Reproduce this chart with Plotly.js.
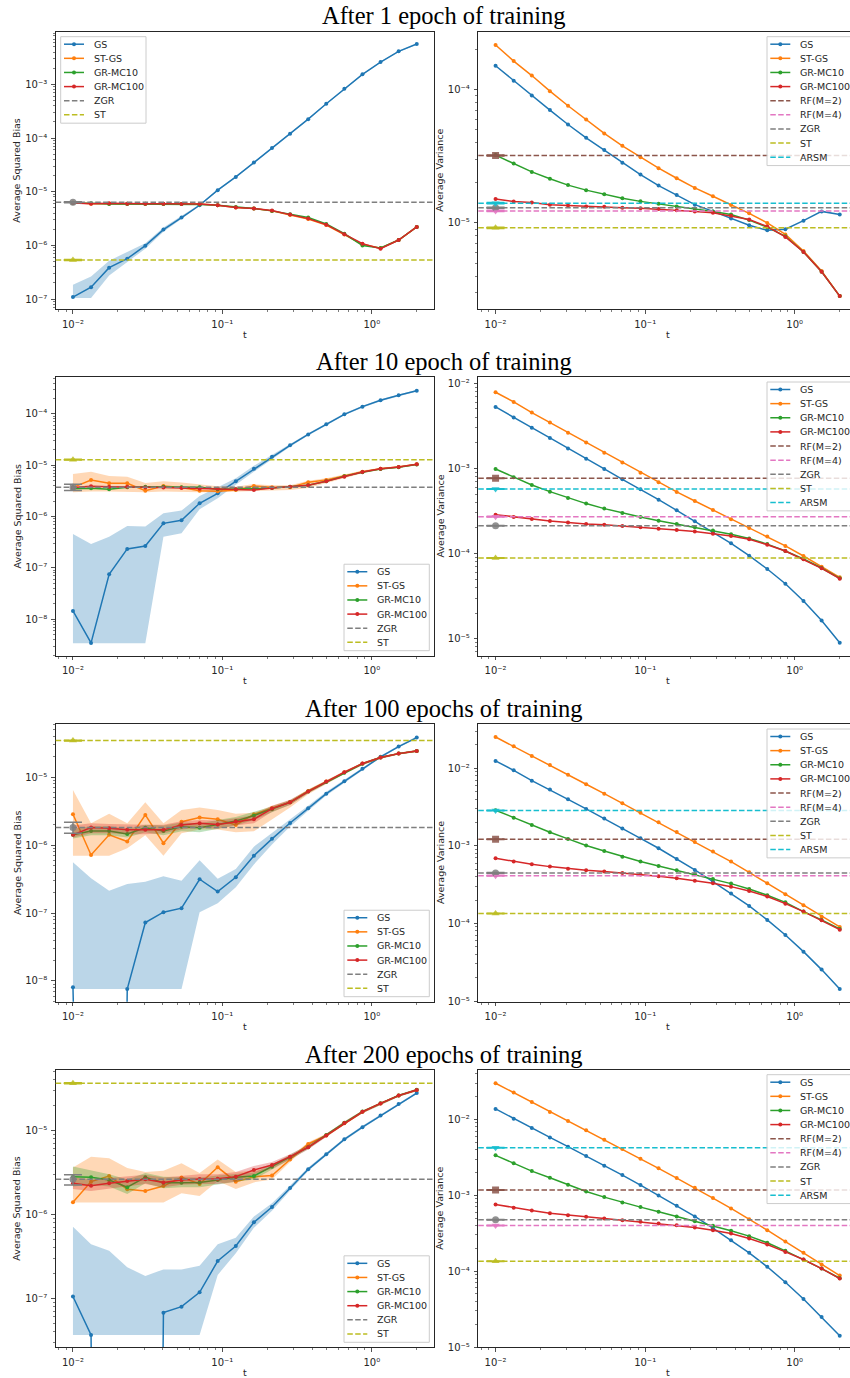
<!DOCTYPE html>
<html><head><meta charset="utf-8">
<script src="https://cdn.plot.ly/plotly-3.0.1.min.js"></script>
<style>html,body{margin:0;padding:0;overflow:hidden;background:#fff}#chart{width:860px;height:1378px}</style>
</head><body><div id="chart"></div>
<script>
// ---------------- DATA ----------------
const T = [0.01, 0.0132161, 0.0174665, 0.023084, 0.0305079, 0.0403196, 0.0532868, 0.0704243, 0.0930737, 0.123007,
           0.162567, 0.21485, 0.283948, 0.375269, 0.49596, 0.655466, 0.866269, 1.14486, 1.51305, 2.0];
const EPOCH_TITLES = ['After 1 epoch of training','After 10 epoch of training','After 100 epochs of training','After 200 epochs of training'];
const X_TICKS = [0.01, 0.1, 1];
const X_TICK_TEXT = ['10\u207B\u00B2', '10\u207B\u00B9', '10\u2070'];
const Y_TICKS_BIAS = [[1e-7,1e-6,1e-5,1e-4,1e-3],[1e-8,1e-7,1e-6,1e-5,1e-4],[1e-8,1e-7,1e-6,1e-5],[1e-7,1e-6,1e-5]];
const Y_TICKS_VAR  = [[1e-5,1e-4],[1e-5,1e-4,1e-3,1e-2],[1e-5,1e-4,1e-3,1e-2],[1e-5,1e-4,1e-3,1e-2]];

// ---- squared bias (left column) ----
const gs_bias_1   = [1.09e-7,1.67e-7,3.85e-7,5.66e-7,9.9e-7,1.97e-6,3.3e-6,5.6e-6,1.07e-5,1.89e-5,3.5e-5,6.5e-5,1.2e-4,2.25e-4,4.35e-4,8.3e-4,1.54e-3,2.61e-3,4.13e-3,5.66e-3];
const gs_bias_1_lo= [1.05e-7,1.05e-7,2.75e-7,4.9e-7,8.7e-7,1.8e-6,3.1e-6,5.4e-6,1.03e-5,1.83e-5,3.4e-5,6.3e-5,1.17e-4,2.19e-4,4.24e-4,8.1e-4,1.5e-3,2.55e-3,4.03e-3,5.53e-3];
const gs_bias_1_hi= [1.85e-7,2.65e-7,5.2e-7,7.5e-7,1.1e-6,2.15e-6,3.5e-6,5.85e-6,1.11e-5,1.95e-5,3.6e-5,6.7e-5,1.23e-4,2.31e-4,4.46e-4,8.5e-4,1.58e-3,2.67e-3,4.23e-3,5.79e-3];
const stgs_bias_1 = [6.3e-6,6.0e-6,6.0e-6,6.0e-6,6.0e-6,5.9e-6,5.9e-6,5.9e-6,5.6e-6,5.1e-6,4.9e-6,4.4e-6,3.7e-6,3.1e-6,2.4e-6,1.6e-6,1.05e-6,8.9e-7,1.26e-6,2.21e-6];
const gr10_bias_1 = [6.1e-6,6.1e-6,5.9e-6,5.9e-6,5.9e-6,5.9e-6,5.9e-6,5.8e-6,5.6e-6,5.2e-6,4.9e-6,4.4e-6,3.8e-6,3.3e-6,2.5e-6,1.65e-6,1.0e-6,9.0e-7,1.26e-6,2.21e-6];
const gr100_bias_1= [6.2e-6,6.0e-6,6.1e-6,6.0e-6,6.0e-6,6.0e-6,5.9e-6,5.9e-6,5.6e-6,5.1e-6,4.9e-6,4.46e-6,3.75e-6,3.16e-6,2.44e-6,1.61e-6,1.08e-6,8.7e-7,1.26e-6,2.21e-6];

const gs_bias_10   = [1.45e-8,3.46e-9,7.5e-8,2.35e-7,2.68e-7,7.4e-7,8.5e-7,1.82e-6,2.85e-6,4.9e-6,8.6e-6,1.475e-5,2.45e-5,4.0e-5,6.3e-5,9.85e-5,1.39e-4,1.85e-4,2.31e-4,2.85e-4];
const gs_bias_10_lo= [3.4e-9,3.4e-9,3.4e-9,3.4e-9,3.4e-9,4.07e-7,4.73e-7,1.39e-6,2.28e-6,4.2e-6,7.5e-6,1.33e-5,2.3e-5,3.8e-5,6.0e-5,9.4e-5,1.33e-4,1.77e-4,2.22e-4,2.74e-4];
const gs_bias_10_hi= [4.6e-7,2.94e-7,4.07e-7,6.6e-7,6.4e-7,1.16e-6,1.31e-6,2.53e-6,3.72e-6,5.6e-6,9.8e-6,1.62e-5,2.6e-5,4.2e-5,6.6e-5,1.03e-4,1.45e-4,1.93e-4,2.4e-4,2.96e-4];
const stgs_bias_10   = [3.72e-6,5.18e-6,4.46e-6,4.46e-6,3.2e-6,3.95e-6,3.68e-6,3.2e-6,3.12e-6,3.3e-6,3.95e-6,3.72e-6,3.72e-6,4.67e-6,5.18e-6,6.2e-6,7.5e-6,8.6e-6,9.3e-6,1.045e-5];
const stgs_bias_10_lo= [3.0e-6,3.1e-6,3.1e-6,3.1e-6,3.0e-6,3.1e-6,3.1e-6,3.0e-6,3.0e-6,3.0e-6,3.2e-6,3.2e-6,3.3e-6,3.6e-6,4.4e-6,5.6e-6,7.0e-6,8.2e-6,8.9e-6,1.0e-5];
const stgs_bias_10_hi= [6.8e-6,7.5e-6,6.2e-6,6.0e-6,4.5e-6,4.9e-6,4.6e-6,4.2e-6,3.9e-6,3.8e-6,4.3e-6,4.1e-6,4.1e-6,5.0e-6,5.6e-6,6.6e-6,7.9e-6,9.0e-6,9.7e-6,1.09e-5];
const gr10_bias_10  = [3.5e-6,3.57e-6,3.4e-6,3.72e-6,3.8e-6,3.8e-6,3.72e-6,3.72e-6,3.4e-6,3.4e-6,3.5e-6,3.6e-6,3.8e-6,4.1e-6,4.9e-6,6.1e-6,7.3e-6,8.5e-6,9.2e-6,1.04e-5];
const gr100_bias_10 = [3.68e-6,3.9e-6,3.8e-6,3.8e-6,3.68e-6,3.68e-6,3.6e-6,3.5e-6,3.5e-6,3.4e-6,3.3e-6,3.6e-6,3.8e-6,4.1e-6,4.9e-6,6.0e-6,7.4e-6,8.6e-6,9.3e-6,1.045e-5];

const gs_bias_100   = [8.07e-9,0,0,7.6e-9,7.24e-8,1.03e-7,1.18e-7,3.15e-7,2.07e-7,3.37e-7,7.0e-7,1.24e-6,2.12e-6,3.49e-6,5.74e-6,8.73e-6,1.33e-5,2.0e-5,2.83e-5,3.84e-5];
const gs_bias_100_lo= [7.6e-9,7.6e-9,7.6e-9,7.6e-9,7.6e-9,7.6e-9,7.6e-9,1.03e-7,1.39e-7,2.4e-7,5.2e-7,1.02e-6,1.88e-6,3.2e-6,5.4e-6,8.3e-6,1.27e-5,1.93e-5,2.74e-5,3.72e-5];
const gs_bias_100_hi= [5.6e-7,3.26e-7,2.14e-7,2.69e-7,2.9e-7,3.48e-7,3.0e-7,6.0e-7,3.2e-7,4.47e-7,9.5e-7,1.5e-6,2.4e-6,3.8e-6,6.1e-6,9.2e-6,1.39e-5,2.08e-5,2.93e-5,3.97e-5];
const stgs_bias_100   = [2.85e-6,7.18e-7,1.42e-6,1.13e-6,2.79e-6,1.07e-6,2.22e-6,2.55e-6,2.41e-6,1.99e-6,2.85e-6,3.49e-6,4.28e-6,6.3e-6,8.63e-6,1.19e-5,1.59e-5,1.95e-5,2.23e-5,2.44e-5];
const stgs_bias_100_lo= [7.0e-7,7.0e-7,7.0e-7,9.0e-7,1.4e-6,7.0e-7,1.5e-6,1.7e-6,1.7e-6,1.55e-6,1.6e-6,2.4e-6,3.6e-6,5.6e-6,8.0e-6,1.12e-5,1.5e-5,1.88e-5,2.16e-5,2.36e-5];
const stgs_bias_100_hi= [6.5e-6,2.1e-6,2.9e-6,2.1e-6,4.3e-6,2.1e-6,3.3e-6,3.6e-6,3.3e-6,2.9e-6,3.0e-6,3.8e-6,4.6e-6,6.6e-6,9.0e-6,1.24e-5,1.65e-5,2.02e-5,2.3e-5,2.52e-5];
const gr10_bias_100   = [1.42e-6,1.62e-6,1.62e-6,1.46e-6,1.8e-6,1.62e-6,1.87e-6,1.81e-6,2.02e-6,2.27e-6,2.72e-6,3.38e-6,4.28e-6,6.15e-6,8.5e-6,1.17e-5,1.58e-5,1.95e-5,2.23e-5,2.44e-5];
const gr10_bias_100_lo= [1.25e-6,1.4e-6,1.4e-6,1.3e-6,1.55e-6,1.4e-6,1.6e-6,1.55e-6,1.75e-6,1.95e-6,2.35e-6,3.05e-6,3.95e-6,5.8e-6,8.1e-6,1.12e-5,1.52e-5,1.88e-5,2.16e-5,2.36e-5];
const gr10_bias_100_hi= [1.75e-6,1.9e-6,1.9e-6,1.75e-6,2.0e-6,1.95e-6,2.15e-6,2.1e-6,2.35e-6,2.6e-6,3.1e-6,3.7e-6,4.6e-6,6.5e-6,8.9e-6,1.22e-5,1.64e-5,2.02e-5,2.3e-5,2.52e-5];
const gr100_bias_100   = [1.42e-6,1.82e-6,1.78e-6,1.68e-6,1.68e-6,1.68e-6,1.99e-6,2.1e-6,2.02e-6,2.23e-6,2.41e-6,3.46e-6,4.28e-6,6.15e-6,8.63e-6,1.19e-5,1.59e-5,1.95e-5,2.23e-5,2.44e-5];
const gr100_bias_100_lo= [1.3e-6,1.5e-6,1.5e-6,1.45e-6,1.45e-6,1.5e-6,1.7e-6,1.8e-6,1.75e-6,1.95e-6,2.1e-6,3.1e-6,3.9e-6,5.8e-6,8.2e-6,1.14e-5,1.53e-5,1.88e-5,2.16e-5,2.36e-5];
const gr100_bias_100_hi= [1.95e-6,2.1e-6,2.05e-6,2.0e-6,2.0e-6,2.0e-6,2.25e-6,2.35e-6,2.3e-6,2.5e-6,2.75e-6,3.8e-6,4.65e-6,6.55e-6,9.0e-6,1.23e-5,1.65e-5,2.02e-5,2.3e-5,2.52e-5];

const gs_bias_200   = [1.05e-7,3.66e-8,0,0,0,6.75e-8,7.96e-8,1.18e-7,2.78e-7,4.2e-7,8.03e-7,1.22e-6,2.06e-6,3.43e-6,5.18e-6,7.81e-6,1.09e-5,1.5e-5,2.06e-5,2.78e-5];
const gs_bias_200_lo= [3.66e-8,3.66e-8,3.66e-8,3.66e-8,3.66e-8,3.66e-8,3.66e-8,3.66e-8,1.9e-7,3.43e-7,6.9e-7,1.1e-6,1.92e-6,3.27e-6,4.97e-6,7.5e-6,1.05e-5,1.45e-5,2.0e-5,2.7e-5];
const gs_bias_200_hi= [7.13e-7,4.4e-7,3.69e-7,2.34e-7,1.85e-7,2.21e-7,2.21e-7,2.45e-7,4.4e-7,5.27e-7,9.4e-7,1.35e-6,2.2e-6,3.6e-6,5.4e-6,8.1e-6,1.13e-5,1.55e-5,2.12e-5,2.86e-5];
const stgs_bias_200   = [1.39e-6,2.45e-6,2.86e-6,1.99e-6,1.9e-6,2.17e-6,2.75e-6,2.3e-6,3.63e-6,2.45e-6,2.8e-6,2.9e-6,4.5e-6,6.88e-6,8.7e-6,1.21e-5,1.66e-5,2.09e-5,2.59e-5,3.02e-5];
const stgs_bias_200_lo= [1.38e-6,1.38e-6,1.38e-6,1.38e-6,1.38e-6,1.38e-6,1.78e-6,1.65e-6,2.5e-6,2.0e-6,2.4e-6,2.6e-6,4.2e-6,6.5e-6,8.3e-6,1.16e-5,1.6e-5,2.03e-5,2.53e-5,2.94e-5];
const stgs_bias_200_hi= [3.6e-6,4.85e-6,4.65e-6,3.55e-6,3.2e-6,3.3e-6,4.05e-6,3.1e-6,4.5e-6,3.2e-6,3.3e-6,3.6e-6,4.8e-6,7.2e-6,9.1e-6,1.26e-5,1.72e-5,2.15e-5,2.65e-5,3.1e-5];
const gr10_bias_200   = [2.81e-6,2.76e-6,2.56e-6,2.1e-6,2.76e-6,2.38e-6,2.38e-6,2.4e-6,2.56e-6,2.76e-6,2.86e-6,3.69e-6,4.78e-6,6.28e-6,8.8e-6,1.23e-5,1.67e-5,2.1e-5,2.6e-5,3.03e-5];
const gr10_bias_200_lo= [2.15e-6,2.25e-6,2.15e-6,1.75e-6,2.35e-6,2.05e-6,2.1e-6,2.1e-6,2.25e-6,2.45e-6,2.6e-6,3.45e-6,4.5e-6,6.0e-6,8.3e-6,1.17e-5,1.6e-5,2.02e-5,2.51e-5,2.92e-5];
const gr10_bias_200_hi= [3.7e-6,3.3e-6,3.0e-6,2.6e-6,3.1e-6,2.8e-6,2.75e-6,2.75e-6,2.9e-6,3.05e-6,3.15e-6,3.95e-6,5.1e-6,6.7e-6,9.1e-6,1.27e-5,1.72e-5,2.16e-5,2.67e-5,3.12e-5];
const gr100_bias_200   = [2.34e-6,2.19e-6,2.34e-6,2.49e-6,2.61e-6,2.4e-6,2.56e-6,2.63e-6,2.65e-6,2.81e-6,3.37e-6,3.86e-6,4.86e-6,6.28e-6,8.7e-6,1.22e-5,1.66e-5,2.09e-5,2.59e-5,3.02e-5];
const gr100_bias_200_lo= [2.0e-6,1.9e-6,2.0e-6,2.15e-6,2.3e-6,2.1e-6,2.25e-6,2.3e-6,2.3e-6,2.45e-6,3.0e-6,3.5e-6,4.5e-6,5.9e-6,8.3e-6,1.17e-5,1.6e-5,2.02e-5,2.51e-5,2.92e-5];
const gr100_bias_200_hi= [2.75e-6,2.6e-6,2.7e-6,2.85e-6,2.95e-6,2.75e-6,2.9e-6,3.0e-6,3.0e-6,3.2e-6,3.75e-6,4.2e-6,5.2e-6,6.7e-6,9.1e-6,1.27e-5,1.72e-5,2.16e-5,2.67e-5,3.12e-5];

// reference estimators, bias (one value per epoch: 1, 10, 100, 200)
const zgr_bias = [6.37e-6, 3.72e-6, 1.82e-6, 2.61e-6];
const zgr_bias_err_up = [0.12e-6, 0.55e-6, 0.35e-6, 0.35e-6];
const zgr_bias_err_dn = [0.12e-6, 0.5e-6, 0.32e-6, 0.38e-6];
const st_bias = [5.35e-7, 1.29e-5, 3.47e-5, 3.63e-5];
const st_bias_err = [0.1e-7, 0.2e-6, 0.5e-6, 0.5e-6];

// ---- variance (right column) ----
const gs_var_1   = [1.505e-4,1.16e-4,9.0e-5,7.0e-5,5.46e-5,4.34e-5,3.51e-5,2.82e-5,2.30e-5,1.905e-5,1.62e-5,1.37e-5,1.22e-5,1.08e-5,9.6e-6,8.8e-6,8.96e-6,1.04e-5,1.22e-5,1.155e-5];
const stgs_var_1 = [2.15e-4,1.63e-4,1.27e-4,9.7e-5,7.54e-5,5.96e-5,4.68e-5,3.78e-5,3.11e-5,2.57e-5,2.16e-5,1.83e-5,1.585e-5,1.365e-5,1.18e-5,1.0e-5,8.2e-6,6.17e-6,4.37e-6,2.83e-6];
const gr10_var_1 = [3.22e-5,2.79e-5,2.41e-5,2.14e-5,1.92e-5,1.76e-5,1.64e-5,1.53e-5,1.45e-5,1.39e-5,1.33e-5,1.27e-5,1.22e-5,1.155e-5,1.05e-5,9.3e-6,7.94e-6,6.06e-6,4.31e-6,2.83e-6];
const gr100_var_1= [1.51e-5,1.445e-5,1.42e-5,1.37e-5,1.35e-5,1.33e-5,1.32e-5,1.30e-5,1.29e-5,1.27e-5,1.245e-5,1.22e-5,1.19e-5,1.13e-5,1.06e-5,9.4e-6,7.85e-6,6.06e-6,4.31e-6,2.83e-6];

const gs_var_10   = [5.27e-3,3.95e-3,3.01e-3,2.28e-3,1.71e-3,1.30e-3,9.85e-4,7.45e-4,5.68e-4,4.29e-4,3.22e-4,2.39e-4,1.79e-4,1.32e-4,9.45e-5,6.58e-5,4.42e-5,2.77e-5,1.63e-5,8.97e-6];
const stgs_var_10 = [7.84e-3,6.04e-3,4.52e-3,3.45e-3,2.63e-3,2.01e-3,1.53e-3,1.17e-3,8.9e-4,6.87e-4,5.29e-4,4.14e-4,3.25e-4,2.52e-4,2.0e-4,1.58e-4,1.23e-4,9.36e-5,7.0e-5,5.25e-5];
const gr10_var_10 = [9.85e-4,7.85e-4,6.38e-4,5.33e-4,4.5e-4,3.86e-4,3.37e-4,2.99e-4,2.69e-4,2.43e-4,2.22e-4,2.03e-4,1.86e-4,1.68e-4,1.50e-4,1.29e-4,1.07e-4,8.63e-5,6.76e-5,5.12e-5];
const gr100_var_10= [2.86e-4,2.69e-4,2.55e-4,2.41e-4,2.31e-4,2.22e-4,2.18e-4,2.11e-4,2.03e-4,1.96e-4,1.89e-4,1.81e-4,1.71e-4,1.61e-4,1.47e-4,1.27e-4,1.07e-4,8.55e-5,6.7e-5,5.07e-5];

const gs_var_100   = [1.245e-2,9.42e-3,6.93e-3,5.31e-3,3.98e-3,2.99e-3,2.25e-3,1.68e-3,1.25e-3,9.31e-4,6.78e-4,4.89e-4,3.46e-4,2.44e-4,1.68e-4,1.11e-4,7.1e-5,4.33e-5,2.54e-5,1.43e-5];
const stgs_var_100 = [2.53e-2,1.92e-2,1.44e-2,1.10e-2,8.28e-3,6.22e-3,4.71e-3,3.54e-3,2.68e-3,2.01e-3,1.51e-3,1.12e-3,8.43e-4,6.27e-4,4.56e-4,3.29e-4,2.38e-4,1.71e-4,1.22e-4,9.0e-5];
const gr10_var_100 = [2.88e-3,2.31e-3,1.86e-3,1.50e-3,1.23e-3,1.01e-3,8.59e-4,7.26e-4,6.27e-4,5.51e-4,4.84e-4,4.3e-4,3.74e-4,3.26e-4,2.78e-4,2.31e-4,1.87e-4,1.42e-4,1.11e-4,8.5e-5];
const gr100_var_100= [6.92e-4,6.27e-4,5.78e-4,5.4e-4,5.08e-4,4.84e-4,4.66e-4,4.48e-4,4.26e-4,4.05e-4,3.82e-4,3.56e-4,3.29e-4,2.98e-4,2.62e-4,2.22e-4,1.80e-4,1.42e-4,1.10e-4,8.32e-5];

const gs_var_200   = [1.37e-2,1.02e-2,7.69e-3,5.78e-3,4.36e-3,3.28e-3,2.45e-3,1.84e-3,1.36e-3,9.93e-4,7.26e-4,5.25e-4,3.68e-4,2.55e-4,1.74e-4,1.14e-4,7.13e-5,4.3e-5,2.48e-5,1.41e-5];
const stgs_var_200 = [2.99e-2,2.25e-2,1.69e-2,1.25e-2,9.51e-3,7.16e-3,5.4e-3,4.06e-3,3.03e-3,2.26e-3,1.68e-3,1.25e-3,9.16e-4,6.69e-4,4.84e-4,3.46e-4,2.45e-4,1.74e-4,1.22e-4,8.73e-5];
const gr10_var_200 = [3.35e-3,2.63e-3,2.08e-3,1.7e-3,1.37e-3,1.12e-3,9.44e-4,8.03e-4,6.97e-4,6.05e-4,5.25e-4,4.55e-4,3.95e-4,3.4e-4,2.89e-4,2.36e-4,1.85e-4,1.42e-4,1.08e-4,8.05e-5];
const gr100_var_200= [7.55e-4,6.82e-4,6.29e-4,5.8e-4,5.46e-4,5.19e-4,4.93e-4,4.69e-4,4.46e-4,4.24e-4,4.03e-4,3.76e-4,3.46e-4,3.13e-4,2.69e-4,2.24e-4,1.79e-4,1.42e-4,1.08e-4,7.97e-5];

// reference estimators, variance (per epoch)
const rf2_var  = [3.2e-5, 7.66e-4, 1.22e-3, 1.17e-3];
const rf4_var  = [1.23e-5, 2.71e-4, 4.13e-4, 3.99e-4];
const zgr_var  = [1.30e-5, 2.12e-4, 4.48e-4, 4.74e-4];
const st_var   = [9.2e-6, 8.87e-5, 1.34e-4, 1.35e-4];
const arsm_var = [1.405e-5, 5.73e-4, 2.85e-3, 4.22e-3];
const rf2_var_err  = [0.3e-6, 6e-6, 1.0e-5, 1.0e-5];
const rf4_var_err  = [0.12e-6, 2.5e-6, 4e-6, 4e-6];
const zgr_var_err  = [0.12e-6, 2e-6, 4e-6, 4e-6];
const st_var_err   = [0.1e-6, 0.8e-6, 1.2e-6, 1.2e-6];
const arsm_var_err = [0.15e-6, 5e-6, 2.5e-5, 3.5e-5];

// ---------------- STYLE / LAYOUT ----------------
const W = 860, H = 1378;
const COLX = [[55.7, 434], [478.3, 857]];
const ROWY = [[32, 309.3], [377.3, 655.7], [724.3, 1001.7], [1070, 1347.3]];
const XR = [-2.1155, 0.4165];
const YR = [[[-7.19, -2.024], [-5.647, -3.57]],
            [[-8.71, -3.285], [-5.2, -1.93]],
            [[-8.305, -4.22], [-5.009, -1.433]],
            [[-7.583, -4.282], [-5.004, -1.35]]];
const COLORS = {'GS':'#1f77b4','ST-GS':'#ff7f0e','GR-MC10':'#2ca02c','GR-MC100':'#d62728',
  'RF(M=2)':'#8c564b','RF(M=4)':'#e377c2','ZGR':'#7f7f7f','ST':'#bcbd22','ARSM':'#17becf'};
const FILLS = {'GS':'rgba(31,119,180,0.3)','ST-GS':'rgba(255,127,14,0.3)','GR-MC10':'rgba(44,160,44,0.3)','GR-MC100':'rgba(214,39,40,0.3)'};
const SYMBOLS = {'RF(M=2)':'square','RF(M=4)':'triangle-down','ZGR':'circle','ST':'triangle-up','ARSM':'triangle-down'};
const DASH = '5.5px,2.4px';
const AX = '#262626';
const FONT = 'DejaVu Sans, Verdana, sans-serif';

const METHODS = ['GS','ST-GS','GR-MC10','GR-MC100'];
const BIAS = {
  'GS':[gs_bias_1,gs_bias_10,gs_bias_100,gs_bias_200],
  'ST-GS':[stgs_bias_1,stgs_bias_10,stgs_bias_100,stgs_bias_200],
  'GR-MC10':[gr10_bias_1,gr10_bias_10,gr10_bias_100,gr10_bias_200],
  'GR-MC100':[gr100_bias_1,gr100_bias_10,gr100_bias_100,gr100_bias_200]};
const BIAS_BAND = {
  'GS':[[gs_bias_1_lo,gs_bias_1_hi],[gs_bias_10_lo,gs_bias_10_hi],[gs_bias_100_lo,gs_bias_100_hi],[gs_bias_200_lo,gs_bias_200_hi]],
  'ST-GS':[null,[stgs_bias_10_lo,stgs_bias_10_hi],[stgs_bias_100_lo,stgs_bias_100_hi],[stgs_bias_200_lo,stgs_bias_200_hi]],
  'GR-MC10':[null,null,[gr10_bias_100_lo,gr10_bias_100_hi],[gr10_bias_200_lo,gr10_bias_200_hi]],
  'GR-MC100':[null,null,[gr100_bias_100_lo,gr100_bias_100_hi],[gr100_bias_200_lo,gr100_bias_200_hi]]};
const VAR = {
  'GS':[gs_var_1,gs_var_10,gs_var_100,gs_var_200],
  'ST-GS':[stgs_var_1,stgs_var_10,stgs_var_100,stgs_var_200],
  'GR-MC10':[gr10_var_1,gr10_var_10,gr10_var_100,gr10_var_200],
  'GR-MC100':[gr100_var_1,gr100_var_10,gr100_var_100,gr100_var_200]};
const BIAS_REFS = [['ZGR', zgr_bias, zgr_bias_err_up, zgr_bias_err_dn], ['ST', st_bias, st_bias_err, st_bias_err]];
const VAR_REFS = [['RF(M=2)', rf2_var, rf2_var_err, rf2_var_err], ['RF(M=4)', rf4_var, rf4_var_err, rf4_var_err],
  ['ZGR', zgr_var, zgr_var_err, zgr_var_err], ['ST', st_var, st_var_err, st_var_err], ['ARSM', arsm_var, arsm_var_err, arsm_var_err]];

const px2x = v => v / W;
const px2y = v => 1 - v / H;
const SUP = {'0':'\u2070','1':'\u00B9','2':'\u00B2','3':'\u00B3','4':'\u2074','5':'\u2075','6':'\u2076','7':'\u2077','8':'\u2078','9':'\u2079'};
const supLabel = v => '10\u207B' + String(Math.round(-Math.log10(v))).split('').map(d => SUP[d]).join('');
const MINOR = [];
for (let k = -10; k <= 1; k++) for (let m = 2; m <= 9; m++) MINOR.push(m * Math.pow(10, k));

const traces = [], shapes = [], annotations = [];
const layout = {width: W, height: H, margin: {l:0, r:0, t:0, b:0}, showlegend: false,
  paper_bgcolor: '#fff', plot_bgcolor: 'rgba(0,0,0,0)', font: {family: FONT, size: 9.5, color: AX}};

function axisCommon(range, tickvals, ticktext, domain) {
  return {type:'log', range, domain, showgrid:false, zeroline:false, showline:true, mirror:true,
    linecolor:AX, linewidth:1, ticks:'outside', ticklen:3.5, tickwidth:0.8, tickcolor:AX,
    tickmode:'array', tickvals, ticktext, ticklabelstandoff:2,
    tickfont:{family:FONT, size:10, color:AX}, fixedrange:true,
    minor:{ticks:'outside', ticklen:2, tickwidth:0.6, tickcolor:AX, tickmode:'array', tickvals:MINOR, showgrid:false}};
}

function legendBox(p, entries, corner) {
  const [xl, xr] = COLX[p.col], [yt, yb] = ROWY[p.row];
  const w = 85.3, step = 14.13, h = entries.length * step + 1.7;
  let L, Tp;
  if (corner === 'ul') { L = xl + 5; Tp = yt + 4.7; }
  else if (corner === 'lr') { L = xr - 4.7 - w; Tp = yb - 5 - h; }
  else { L = xr - 4.7 - w; Tp = yt + 4.7; }
  shapes.push({type:'rect', xref:'paper', yref:'paper', layer:'above',
    x0:px2x(L), x1:px2x(L+w), y0:px2y(Tp), y1:px2y(Tp+h),
    fillcolor:'rgba(255,255,255,0.8)', line:{color:'#cccccc', width:1}});
  entries.forEach((e, i) => {
    const cy = Tp + 7.5 + step * i;
    shapes.push({type:'line', xref:'paper', yref:'paper', layer:'above',
      x0:px2x(L+3.3), x1:px2x(L+23.3), y0:px2y(cy), y1:px2y(cy),
      line:{color:COLORS[e], width:1.5, dash: METHODS.includes(e) ? 'solid' : DASH}});
    if (METHODS.includes(e)) {
      shapes.push({type:'circle', xref:'paper', yref:'paper', layer:'above',
        x0:px2x(L+11.3), x1:px2x(L+15.3), y0:px2y(cy-2), y1:px2y(cy+2),
        fillcolor:COLORS[e], line:{width:0}});
    }
    annotations.push({xref:'paper', yref:'paper', x:px2x(L+31), y:px2y(cy), xanchor:'left', yanchor:'middle',
      text:e, showarrow:false, font:{family:FONT, size:9.5, color:'#262626'}});
  });
}

let idx = 0;
for (let r = 0; r < 4; r++) {
  for (let c = 0; c < 2; c++) {
    idx++;
    const sfx = idx === 1 ? '' : String(idx);
    const xa = 'x' + sfx, ya = 'y' + sfx;
    const xd = [px2x(COLX[c][0]), px2x(COLX[c][1])];
    const yd = [px2y(ROWY[r][1]), px2y(ROWY[r][0])];
    const yt = c === 0 ? Y_TICKS_BIAS[r] : Y_TICKS_VAR[r];
    layout['xaxis' + sfx] = Object.assign(axisCommon(XR, X_TICKS, X_TICK_TEXT, xd), {anchor: ya});
    layout['yaxis' + sfx] = Object.assign(axisCommon(YR[r][c], yt, yt.map(supLabel), yd), {anchor: xa});

    // reference estimators: dashed horizontal line across the whole axis (data units on the log axis)
    const REFS = c === 0 ? BIAS_REFS : VAR_REFS;
    REFS.forEach(([name, vals]) => {
      shapes.push({type:'line', xref: xa + ' domain', yref: ya, x0:0, x1:1,
        y0: vals[r], y1: vals[r], layer:'above',
        line:{color:COLORS[name], width:1.5, dash:DASH}});
    });

    const SER = c === 0 ? BIAS : VAR;
    METHODS.forEach(m => {
      const band = c === 0 ? BIAS_BAND[m][r] : null;
      if (band) {
        const [lo, hi] = band;
        traces.push({type:'scatter', mode:'lines', xaxis:xa, yaxis:ya, hoverinfo:'skip',
          x: T.concat(T.slice().reverse()), y: hi.concat(lo.slice().reverse()),
          fill:'toself', fillcolor:FILLS[m], line:{width:0, color:'rgba(0,0,0,0)'}});
      }
      // non-positive values are clipped far below the axis (matplotlib log clipping)
      const yv = SER[m][r].map(v => v > 0 ? v : 1e-30);
      traces.push({type:'scatter', mode:'lines+markers', name:m, xaxis:xa, yaxis:ya, x:T, y:yv,
        line:{color:COLORS[m], width:1.5}, marker:{color:COLORS[m], size:4}});
    });
    REFS.forEach(([name, vals, eu, ed]) => {
      traces.push({type:'scatter', mode:'markers', name:name, xaxis:xa, yaxis:ya, x:[T[0]], y:[vals[r]],
        marker:{symbol:SYMBOLS[name], color:COLORS[name], size:7, opacity:0.85},
        error_y:{type:'data', array:[eu[r]], arrayminus:[ed[r]], width:9, thickness:1.5, color:COLORS[name]}});
    });

    // axis labels
    annotations.push({xref:'paper', yref:'paper', x: px2x((COLX[c][0]+COLX[c][1])/2), y: px2y(ROWY[r][1]+25),
      text:'t', showarrow:false, xanchor:'center', yanchor:'middle', font:{family:FONT, size:9.5, color:'#262626'}});
    annotations.push({xref:'paper', yref:'paper', x: px2x(c === 0 ? 17 : 440), y: px2y((ROWY[r][0]+ROWY[r][1])/2),
      text: c === 0 ? 'Average Squared Bias' : 'Average Variance', textangle:-90, showarrow:false,
      xanchor:'center', yanchor:'middle', font:{family:FONT, size:9.5, color:'#262626'}});
  }
  annotations.push({xref:'paper', yref:'paper', x: px2x(444), y: px2y(ROWY[r][0] - 16), text: EPOCH_TITLES[r],
    showarrow:false, xanchor:'center', yanchor:'middle',
    font:{family:'Liberation Serif, Times New Roman, serif', size:24.5, color:'#000'}});
}
// legends drawn last so they sit on top of the dashed reference lines
for (let r = 0; r < 4; r++) for (let c = 0; c < 2; c++) {
  const entries = c === 0 ? METHODS.concat(['ZGR','ST']) : METHODS.concat(['RF(M=2)','RF(M=4)','ZGR','ST','ARSM']);
  legendBox({row:r, col:c}, entries, c === 0 ? (r === 0 ? 'ul' : 'lr') : 'ur');
}
layout.shapes = shapes;
layout.annotations = annotations;
Plotly.newPlot('chart', traces, layout, {staticPlot:true});
</script></body></html>
